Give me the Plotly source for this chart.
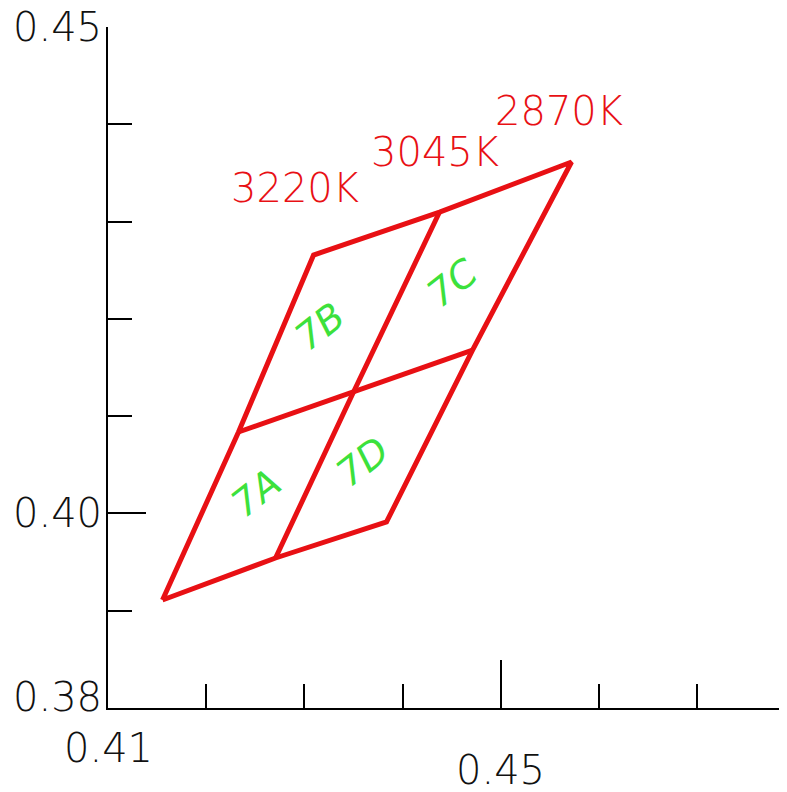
import plotly.graph_objects as go

# corner points of the bin quadrangles (CIE x, y)
outline_x = [0.41555, 0.42706, 0.43836, 0.44712, 0.45720, 0.44376, 0.43093, 0.42329, 0.41555]
outline_y = [0.39110, 0.39542, 0.39912, 0.41679, 0.43612, 0.43098, 0.42656, 0.40837, 0.39110]
# dividing lines through the centre
cross1_x = [0.42329, 0.43500, 0.44712]
cross1_y = [0.40837, 0.41248, 0.41679]
cross2_x = [0.42706, 0.43500, 0.44376]
cross2_y = [0.39542, 0.41248, 0.43098]

bin_names = ["7A", "7B", "7C", "7D"]
bin_x = [0.42512, 0.43154, 0.44508, 0.43592]
bin_y = [0.40210, 0.41916, 0.42368, 0.40528]

cct_names = ["3220K", "3045K", "2870K"]
cct_x = [0.42909, 0.44330, 0.45589]
cct_y = [0.43344, 0.43714, 0.44136]

RED = "rgb(232,16,20)"
GREEN = "rgb(60,225,60)"
FONT = "DejaVu Sans"

fig = go.Figure()
for xs, ys in [(outline_x, outline_y), (cross1_x, cross1_y), (cross2_x, cross2_y)]:
    fig.add_trace(go.Scatter(x=xs, y=ys, mode="lines",
                             line=dict(color=RED, width=5), hoverinfo="skip"))

for name, x, y in zip(bin_names, bin_x, bin_y):
    fig.add_annotation(x=x, y=y, text=name, showarrow=False, textangle=-38,
                       font=dict(family=FONT, size=38, color=GREEN, style="italic", weight=200))

for name, x, y in zip(cct_names, cct_x, cct_y):
    fig.add_annotation(x=x, y=y, text=name, showarrow=False,
                       font=dict(family=FONT, size=40, color=RED, weight=200))

# axis labels placed like the original drawing
axis_font = dict(family=FONT, size=40, color="#111", weight=200)
for txt, yv, ys in [("0.45", 0.45, 0), ("0.40", 0.40, 0), ("0.38", 0.38, 11)]:
    fig.add_annotation(x=0, xref="paper", y=yv, text=txt, showarrow=False,
                       xanchor="right", yanchor="middle", xshift=-4, yshift=ys,
                       font=axis_font)
for txt, xv, ys in [("0.41", 0.41, -40), ("0.45", 0.45, -62)]:
    fig.add_annotation(x=xv, y=0, yref="paper", text=txt, showarrow=False,
                       yanchor="middle", yshift=ys, font=axis_font)

fig.update_xaxes(range=[0.41, 0.47914], showgrid=False, zeroline=False,
                 showline=True, linecolor="black", linewidth=2,
                 tickmode="array", tickvals=[0.45], ticks="inside", ticklen=48,
                 tickwidth=2, tickcolor="black", showticklabels=False,
                 minor=dict(tickmode="linear", tick0=0.41, dtick=0.01, ticks="inside",
                            ticklen=24, tickwidth=2, tickcolor="black"))
fig.update_yaxes(range=[0.38, 0.45], showgrid=False, zeroline=False,
                 showline=True, linecolor="black", linewidth=2,
                 tickmode="array", tickvals=[0.40, 0.45], ticks="inside", ticklen=38,
                 tickwidth=2, tickcolor="black", showticklabels=False,
                 minor=dict(tickmode="linear", tick0=0.38, dtick=0.01, ticks="inside",
                            ticklen=24, tickwidth=2, tickcolor="black"))

# page body adds an 8px offset, so the figure is sized to fit inside the window
fig.update_layout(width=779, height=784, showlegend=False,
                  margin=dict(l=100, r=0, t=19, b=84),
                  plot_bgcolor="white", paper_bgcolor="white")
fig.write_html("out.html")
